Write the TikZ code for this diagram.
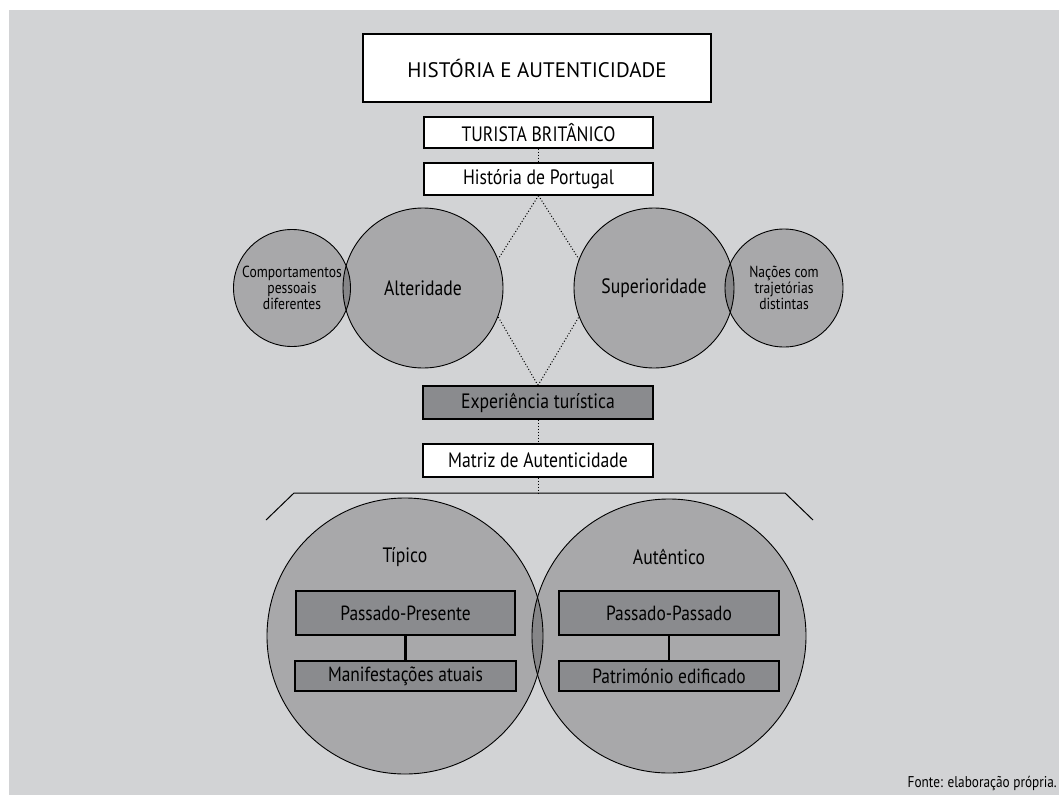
\documentclass[tikz,border=0pt]{standalone}
\usepackage{fontspec}
\setmainfont{PT Sans}[FakeStretch=0.85]
\newfontfamily\titlefont{PT Sans}
\usetikzlibrary{shapes, backgrounds, calc}

\definecolor{panelgray}{HTML}{D2D3D5}
\definecolor{boxgray}{HTML}{8A8B8E}

\begin{document}
\begin{tikzpicture}[
    x=1pt, y=-1pt,
    % --- 样式定义 ---
    % 白色矩形框
    whitebox/.style={draw, line width=1.2pt, fill=white, inner sep=0pt, minimum width=229pt, minimum height=32pt, font=\fontsize{20.8}{22}\selectfont},
    % 深灰矩形框
    darkbox/.style={whitebox, fill=boxgray},
    % 圆:半透明填充,重叠处变深
    bubble/.style={circle, draw, line width=0.9pt, fill=black, fill opacity=0.2, text opacity=1, inner sep=0pt, align=center},
    bigtext/.style={font=\fontsize{20.8}{22}\selectfont},
    smalltext/.style={font=\fontsize{16}{16}\selectfont},
    % 虚线 / 实线连接
    dotline/.style={dotted, line width=1pt},
    solidlink/.style={line width=2.4pt}
]

% ==================== 0. 背景 ====================
\useasboundingbox (0,0) rectangle (1059,795);
\begin{scope}[on background layer]
    \fill[panelgray] (9,10) rectangle (1059,795);
\end{scope}

% ==================== 1. 顶部标题 ====================
\node[whitebox, minimum width=348pt, minimum height=68pt, font=\titlefont\fontsize{21}{22}\selectfont] (Title) at (537,68) {HISTÓRIA E AUTENTICIDADE};
\node[whitebox, minimum height=31pt] (Tourist) at (538.5,132.5) {TURISTA BRITÂNICO};
\node[whitebox] (History) at (538.5,179) {História de Portugal};
\draw[dotline] (Tourist) -- (History);

% ==================== 2. 中间四个圆 ====================
\node[bubble, smalltext, minimum size=117pt] (Behaviours) at (292,288) {Comportamentos\\pessoais\\diferentes};
\node[bubble, bigtext, minimum size=160pt] (Alterity) at (423,288) {Alteridade};
\node[bubble, bigtext, minimum size=160pt] (Superiority) at (654,288) {Superioridade};
\node[bubble, smalltext, minimum size=118pt] (Nations) at (784,288) {Nações com\\trajetórias\\distintas};

\node[darkbox, minimum width=230pt, minimum height=33pt] (Experience) at (538,402.5) {Experiência turística};
\node[whitebox, minimum width=230pt, minimum height=33pt] (Matrix) at (538,460.5) {Matriz de Autenticidade};

% --- 菱形虚线 (只画圆外部分) ---
\draw[dotline] (History.south) -- (Alterity.21);
\draw[dotline] (History.south) -- (Superiority.159);
\draw[dotline] (Experience.north) -- (Alterity.-21);
\draw[dotline] (Experience.north) -- (Superiority.201);
\draw[dotline] (Experience) -- (Matrix);

% ==================== 3. 括号线 ====================
\coordinate (BrL) at (266,520);
\coordinate (BrTL) at (294,493);
\coordinate (BrM) at (538,493);
\coordinate (BrTR) at (785,493);
\coordinate (BrR) at (813,520);
\draw[line width=1pt] (BrL) -- (BrTL) -- (BrTR) -- (BrR);
\draw[dotline] (Matrix.south) -- (BrM);

% ==================== 4. 底部两个大圆 ====================
\node[bubble, minimum size=276pt] (Typical) at (405,636) {};
\node[bubble, minimum size=274pt] (Authentic) at (669,636) {};

\node[bigtext] (TypicalLbl) at (Typical.center) [yshift=79pt] {Típico};
\node[bigtext] (AuthenticLbl) at (Authentic.center) [yshift=79pt] {Autêntico};

\node[darkbox, minimum width=219pt, minimum height=44pt, font=\fontsize{20.5}{22}\selectfont] (PastPresent) at (405.5,613) {Passado-Presente};
\node[darkbox, minimum width=221pt, minimum height=30pt, font=\fontsize{20.5}{22}\selectfont] (Manifest) at (405.5,676) {Manifestações atuais};
\draw[solidlink] (PastPresent) -- (Manifest);

\node[darkbox, minimum width=220pt, minimum height=44pt, font=\fontsize{20.5}{22}\selectfont] (PastPast) at (669,613) {Passado-Passado};
\node[darkbox, minimum width=220pt, minimum height=30pt, font=\fontsize{20.5}{22}\selectfont] (Heritage) at (669,676) {Património edificado};
\draw[solidlink] (PastPast) -- (Heritage);

% ==================== 5. 来源 ====================
\node[anchor=base east, inner sep=0pt, font=\fontsize{15.6}{16}\selectfont] (Source) at (1057,787) {Fonte: elaboração própria.};

\end{tikzpicture}
\end{document}
